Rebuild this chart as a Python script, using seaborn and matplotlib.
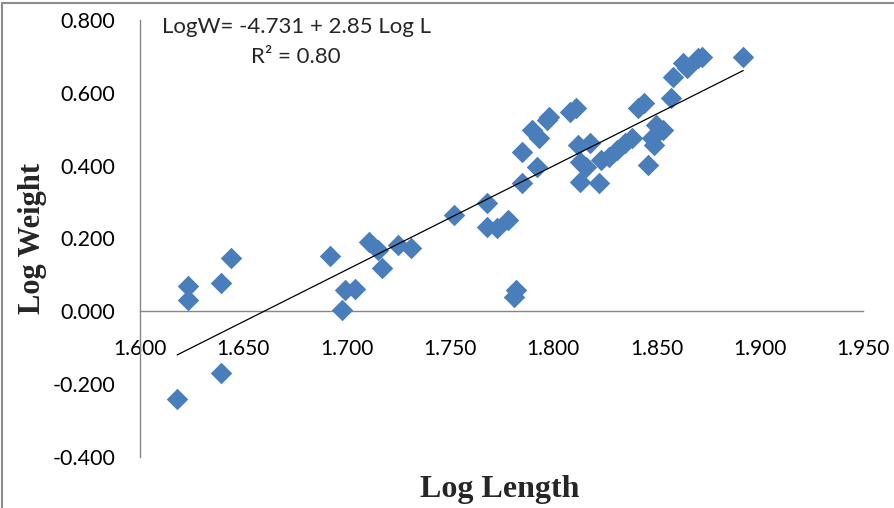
import numpy as np
import pandas as pd
import matplotlib
matplotlib.use("Agg")
import matplotlib.pyplot as plt
from matplotlib.lines import Line2D
import seaborn as sns

log_length = [1.618, 1.639, 1.623, 1.623, 1.639, 1.644, 1.692, 1.698, 1.699, 1.704,
              1.711, 1.715, 1.717, 1.725, 1.731, 1.752, 1.768, 1.768, 1.773, 1.778,
              1.782, 1.781, 1.785, 1.792, 1.785, 1.790, 1.793, 1.797, 1.798, 1.808,
              1.811, 1.812, 1.818, 1.813, 1.816, 1.813, 1.822, 1.823, 1.827, 1.831,
              1.835, 1.838, 1.841, 1.844, 1.846, 1.850, 1.853, 1.848, 1.849, 1.857,
              1.858, 1.863, 1.865, 1.870, 1.872, 1.892]
log_weight = [-0.242, -0.168, 0.030, 0.069, 0.077, 0.146, 0.151, 0.005, 0.058, 0.060,
              0.190, 0.168, 0.118, 0.181, 0.173, 0.264, 0.297, 0.231, 0.228, 0.250,
              0.058, 0.038, 0.437, 0.396, 0.352, 0.497, 0.475, 0.525, 0.533, 0.547,
              0.558, 0.456, 0.461, 0.409, 0.396, 0.354, 0.352, 0.415, 0.423, 0.442,
              0.461, 0.475, 0.558, 0.571, 0.401, 0.511, 0.497, 0.475, 0.456, 0.585,
              0.643, 0.681, 0.668, 0.695, 0.698, 0.698]
intercept = -4.731
slope = 2.85
x_ticks = [1.600, 1.650, 1.700, 1.750, 1.800, 1.850, 1.900, 1.950]
y_ticks = [-0.400, -0.200, 0.000, 0.200, 0.400, 0.600, 0.800]
equation_text = "LogW= -4.731 + 2.85 Log L"
r2_text = "R² = 0.80"
x_label = "Log Length"
y_label = "Log Weight"

sns.set_style("white")
plt.rcParams['font.family'] = ['Lato', 'DejaVu Sans']

df = pd.DataFrame({"L": log_length, "W": log_weight})

fig = plt.figure(figsize=(8.94, 5.08), dpi=100)
ax = fig.add_axes([140/894, 51/508, 723/894, 437/508])

sns.scatterplot(data=df, x="L", y="W", marker="D", s=120, color="#4A7EBB",
                linewidth=0, ax=ax, zorder=3)

xl = np.array([min(log_length), max(log_length)])
ax.plot(xl, intercept + slope * xl, color="black", lw=0.9, zorder=4)

ax.set_xlim(1.6, 1.95)
ax.set_ylim(-0.4, 0.8)
ax.set_xticks(x_ticks)
ax.set_yticks(y_ticks)
ax.set_xticklabels([f"{v:.3f}" for v in x_ticks])
ax.set_yticklabels([f"{v:.3f}" for v in y_ticks])

for s in ["top", "right"]:
    ax.spines[s].set_visible(False)
ax.spines["bottom"].set_position(("data", 0))
for s in ["left", "bottom"]:
    ax.spines[s].set_color("#868686")
    ax.spines[s].set_linewidth(1.0)

ax.tick_params(axis="x", direction="out", length=5, width=1, color="#868686",
               pad=15, labelsize=15, labelcolor="#000000")
ax.tick_params(axis="y", direction="out", length=4, width=1, color="#868686",
               pad=14, labelsize=15.5, labelcolor="#000000")
ax.set_xlabel("")
ax.set_ylabel("")

fig.text(500/894, 1 - 489/508, x_label, ha="center", va="center",
         fontsize=23, fontweight="bold", family=["Liberation Serif"])
fig.text(33/894, 1 - 238/508, y_label, ha="center", va="center", rotation=90,
         fontsize=22, fontweight="bold", family=["Liberation Serif"])

fig.text(296/894, 1 - 27/508, equation_text, ha="center", va="center", fontsize=16)
fig.text(296/894, 1 - 57/508, r2_text, ha="center", va="center", fontsize=16)

fig.add_artist(Line2D([2/894, 2/894], [0, 1 - 3/508], transform=fig.transFigure,
                      color="#8c8c8c", lw=1.5))
fig.add_artist(Line2D([2/894, 1], [1 - 3/508, 1 - 3/508], transform=fig.transFigure,
                      color="#8c8c8c", lw=1.5))

fig.savefig("out.png", dpi=100)
